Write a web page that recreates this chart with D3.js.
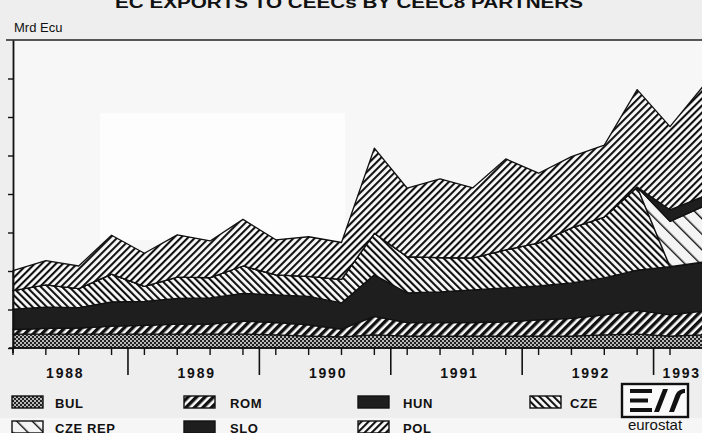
<!DOCTYPE html>
<html>
<head>
<meta charset="utf-8">
<script src="https://cdn.jsdelivr.net/npm/d3@7"></script>
<style>
  html, body { margin: 0; padding: 0; background: #eeeeee; }
  svg { display: block; }
  text { font-family: "Liberation Sans", Arial, sans-serif; fill: #111; }
</style>
</head>
<body>
<svg id="chart" width="702" height="433"></svg>
<script>
// ---------------- DATA (Mrd Ecu, quarterly) ----------------
const quarters = ["1988Q1","1988Q2","1988Q3","1988Q4","1989Q1","1989Q2","1989Q3","1989Q4",
                  "1990Q1","1990Q2","1990Q3","1990Q4","1991Q1","1991Q2","1991Q3","1991Q4",
                  "1992Q1","1992Q2","1992Q3","1992Q4","1993Q1","1993Q2"];
const years = ["1988","1989","1990","1991","1992","1993"];
const seriesNames = ["BUL","ROM","HUN","CZE","CZE REP","SLO","POL"];
const BUL    = [0.36,0.36,0.36,0.36,0.36,0.36,0.36,0.36,0.34,0.31,0.29,0.34,0.31,0.31,0.31,0.31,0.31,0.31,0.34,0.36,0.31,0.34];
const ROM    = [0.12,0.15,0.16,0.21,0.23,0.26,0.26,0.34,0.32,0.29,0.20,0.48,0.35,0.35,0.35,0.37,0.42,0.46,0.52,0.62,0.55,0.62];
const HUN    = [0.53,0.55,0.53,0.63,0.62,0.67,0.68,0.72,0.72,0.74,0.68,1.08,0.77,0.80,0.85,0.88,0.88,0.92,0.96,1.04,1.25,1.27];
const CZE    = [0.48,0.58,0.49,0.72,0.39,0.55,0.53,0.71,0.52,0.52,0.61,1.08,0.94,0.89,0.83,0.99,1.12,1.43,1.58,2.16,0,0];
const CZEREP = [0,0,0,0,0,0,0,0,0,0,0,0,0,0,0,0,0,0,0,0,1.18,1.44];
const SLO    = [0,0,0,0,0,0,0,0,0,0,0,0,0,0,0,0,0,0,0,0,0.30,0.26];
const POL    = [0.52,0.63,0.59,1.01,0.86,1.10,0.95,1.21,0.91,1.03,0.96,2.21,1.78,2.04,1.82,2.36,1.81,1.85,1.87,2.53,2.16,2.86];
const yTicks = [0,1,2,3,4,5,6,7];
const titleText = "EC EXPORTS TO CEECs BY CEEC8 PARTNERS";
const unitText = "Mrd Ecu";

// ---------------- BUILD TABLE ----------------
const seriesValues = {"BUL":BUL,"ROM":ROM,"HUN":HUN,"CZE":CZE,"CZE REP":CZEREP,"SLO":SLO,"POL":POL};
const table = quarters.map((q,i) => {
  const row = {i:i, q:q};
  seriesNames.forEach(k => row[k] = seriesValues[k][i]);
  return row;
});

const svg = d3.select("#chart");
const W = 702, H = 433;

const x = d3.scaleLinear().domain([0, quarters.length-1]).range([13, 13 + 21*32.85]);
const y = d3.scaleLinear().domain([0, 8]).range([348, 40]);

// ---------------- PATTERNS ----------------
const defs = svg.append("defs");
function stripes(id, period, black, angle, bg) {
  const p = defs.append("pattern").attr("id", id).attr("patternUnits","userSpaceOnUse")
    .attr("width", period).attr("height", period).attr("patternTransform", `rotate(${angle})`);
  p.append("rect").attr("width", period).attr("height", period).attr("fill", bg || "#fbfbfb");
  p.append("rect").attr("width", black).attr("height", period).attr("fill", "#111");
}
stripes("pPOL", 5, 2.1, 45);
stripes("pCZE", 5, 2.1, -45);
stripes("pROM", 6, 3.4, 45);
stripes("pCZEREP", 11, 1.4, -45, "#f4f4f4");
const bp = defs.append("pattern").attr("id","pBUL").attr("patternUnits","userSpaceOnUse")
  .attr("width",4).attr("height",4);
bp.append("rect").attr("width",4).attr("height",4).attr("fill","#b8b8b8");
bp.append("rect").attr("width",2).attr("height",2).attr("fill","#222");
bp.append("rect").attr("x",2).attr("y",2).attr("width",2).attr("height",2).attr("fill","#222");

const fills = {"BUL":"url(#pBUL)","ROM":"url(#pROM)","HUN":"#1e1e1e","CZE":"url(#pCZE)",
               "CZE REP":"url(#pCZEREP)","SLO":"#1e1e1e","POL":"url(#pPOL)"};

// ---------------- BACKGROUND ----------------
svg.append("rect").attr("width",W).attr("height",H).attr("fill","#eeeeee");
svg.append("rect").attr("x",x.range()[0]).attr("y",y(8)).attr("width",W - x.range()[0]).attr("height",y(0)-y(8)).attr("fill","#f7f7f7");
svg.append("rect").attr("x",100).attr("y",y(6.1)).attr("width",245).attr("height",y(2.8)-y(6.1)).attr("fill","#fdfdfd");
svg.append("rect").attr("x",0).attr("y",418).attr("width",W).attr("height",H-418).attr("fill","#f6f6f6");

// ---------------- TITLE ----------------
svg.append("text").attr("x",115).attr("y",8).attr("font-size",16).attr("font-weight","bold")
  .attr("textLength",468).attr("lengthAdjust","spacingAndGlyphs").text(titleText);
svg.append("text").attr("x",14).attr("y",32).attr("font-size",13).text(unitText);

// ---------------- STACKED AREAS ----------------
const stack = d3.stack().keys(seriesNames);
const layers = stack(table);
const area = d3.area().x(d => x(d.data.i)).y0(d => y(d[0])).y1(d => y(d[1])).curve(d3.curveLinear);
svg.append("g").selectAll("path").data(layers).join("path")
  .attr("d", area)
  .attr("fill", d => fills[d.key])
  .attr("stroke", "#111").attr("stroke-width", 1.3).attr("stroke-linejoin","round");

// ---------------- AXES ----------------
// top frame
svg.append("line").attr("x1",6).attr("x2",W).attr("y1",y(8)).attr("y2",y(8)).attr("stroke","#222").attr("stroke-width",1.5);
// y axis
const yAxis = d3.axisLeft(y).tickValues(yTicks).tickSize(5).tickSizeOuter(0).tickFormat("");
const gy = svg.append("g").attr("transform",`translate(${x.range()[0]},0)`).call(yAxis);
gy.select(".domain").attr("stroke","#111").attr("stroke-width",1.8);
gy.selectAll(".tick line").attr("stroke","#111").attr("stroke-width",1.4);
svg.append("line").attr("x1",x.range()[0]).attr("x2",x.range()[0]).attr("y1",y(0)).attr("y2",y(0)+5).attr("stroke","#111").attr("stroke-width",1.8);
// x axis baseline
svg.append("line").attr("x1",9).attr("x2",W).attr("y1",y(0)).attr("y2",y(0)).attr("stroke","#111").attr("stroke-width",1.6);
// quarter ticks
svg.append("g").selectAll("line").data(quarters.map((q,i)=>i)).join("line")
  .attr("x1", d => x(d)).attr("x2", d => x(d)).attr("y1", y(0)).attr("y2", y(0)+7)
  .attr("stroke","#111").attr("stroke-width",1.4);
// year boundary ticks
const yearStarts = years.map((yr,k) => quarters.indexOf(yr + "Q1"));
svg.append("g").selectAll("line").data(yearStarts.filter(i => i > 0)).join("line")
  .attr("x1", d => x(d - 0.5)).attr("x2", d => x(d - 0.5)).attr("y1", y(0)).attr("y2", y(0)+27)
  .attr("stroke","#111").attr("stroke-width",1.6);
// year labels
svg.append("g").selectAll("text").data(years).join("text")
  .attr("x", (yr,k) => k < years.length-1 ? x(yearStarts[k] + 1.5) + 3 : x(yearStarts[k] - 0.5) + 9)
  .attr("y", 378)
  .attr("text-anchor", (yr,k) => k < years.length-1 ? "middle" : "start")
  .attr("font-size", 14).attr("font-weight","bold").attr("letter-spacing", 1.8)
  .text(d => d);

// ---------------- LEGEND ----------------
const legendCols = [12, 184, 358, 530];
const legendLabelX = [55, 230, 403, 570];
const legendRows = [396, 421];
const lg = svg.append("g").selectAll("g").data(seriesNames).join("g")
  .attr("transform", (d,k) => `translate(0,${legendRows[Math.floor(k/4)]})`);
lg.append("rect").attr("x", (d,k) => legendCols[k%4]).attr("y",0).attr("width",31).attr("height",12)
  .attr("fill", d => fills[d]).attr("stroke","#111").attr("stroke-width",1.4);
lg.append("text").attr("x", (d,k) => legendLabelX[k%4]).attr("y",12)
  .attr("font-size",13).attr("font-weight","bold").attr("letter-spacing",0.6).text(d => d);

// ---------------- EUROSTAT LOGO ----------------
const logo = svg.append("g").attr("transform","translate(622,384)");
logo.append("rect").attr("width",66).attr("height",33).attr("fill","#fafafa").attr("stroke","#111").attr("stroke-width",2.4);
logo.append("path").attr("fill","#111")
  .attr("d","M8,5 h22 v4 h-22z M8,14.5 h18 v4 h-18z M8,24 h22 v4 h-22z M32,28 l9,-23 h5 l-9,23z M47,28 l6,-16 c2,-5 5,-7 10,-7 v4 c-3,0 -4,1 -5,4 l-6,15z");
svg.append("text").attr("x",655).attr("y",430).attr("text-anchor","middle").attr("font-size",15).text("eurostat");
</script>
</body>
</html>
